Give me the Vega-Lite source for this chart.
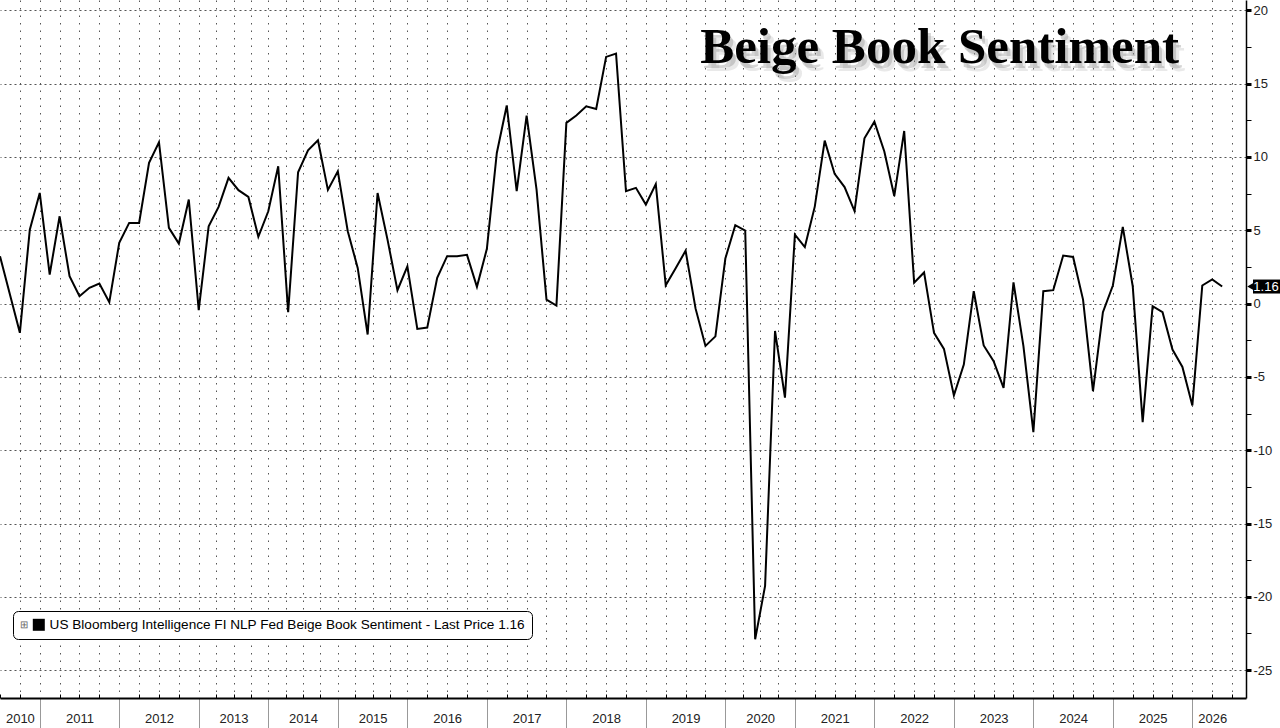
{
  "$schema": "https://vega.github.io/schema/vega-lite/v6.json",
  "width": 1246,
  "height": 698,
  "autosize": "none",
  "padding": {"left": 0, "top": 0, "right": 34, "bottom": 30},
  "background": "#ffffff",
  "config": {"view": {"stroke": null}, "font": "Liberation Sans"},
  "data": {
    "values": [
      {"obs": 0, "value": 3.23}, {"obs": 2, "value": -2.0}, {"obs": 3, "value": 5.04},
      {"obs": 4, "value": 7.54}, {"obs": 5, "value": 1.98}, {"obs": 6, "value": 5.95},
      {"obs": 7, "value": 1.86}, {"obs": 8, "value": 0.5}, {"obs": 9, "value": 1.07},
      {"obs": 10, "value": 1.36}, {"obs": 11, "value": 0.09}, {"obs": 12, "value": 4.14},
      {"obs": 13, "value": 5.5}, {"obs": 14, "value": 5.5}, {"obs": 15, "value": 9.59},
      {"obs": 16, "value": 11.0}, {"obs": 17, "value": 5.16}, {"obs": 18, "value": 4.09},
      {"obs": 19, "value": 7.09}, {"obs": 20, "value": -0.45}, {"obs": 21, "value": 5.27},
      {"obs": 22, "value": 6.59}, {"obs": 23, "value": 8.57}, {"obs": 24, "value": 7.73},
      {"obs": 25, "value": 7.27}, {"obs": 26, "value": 4.55}, {"obs": 27, "value": 6.29},
      {"obs": 28, "value": 9.36}, {"obs": 29, "value": -0.59}, {"obs": 30, "value": 8.95},
      {"obs": 31, "value": 10.45}, {"obs": 32, "value": 11.13}, {"obs": 33, "value": 7.75},
      {"obs": 34, "value": 9.02}, {"obs": 35, "value": 4.93}, {"obs": 36, "value": 2.43},
      {"obs": 37, "value": -2.11}, {"obs": 38, "value": 7.54}, {"obs": 39, "value": 4.36},
      {"obs": 40, "value": 0.91}, {"obs": 41, "value": 2.54}, {"obs": 42, "value": -1.73},
      {"obs": 43, "value": -1.64}, {"obs": 44, "value": 1.75}, {"obs": 45, "value": 3.23},
      {"obs": 46, "value": 3.23}, {"obs": 47, "value": 3.32}, {"obs": 48, "value": 1.14},
      {"obs": 49, "value": 3.73}, {"obs": 50, "value": 10.27}, {"obs": 51, "value": 13.5},
      {"obs": 52, "value": 7.66}, {"obs": 53, "value": 12.82}, {"obs": 54, "value": 7.77},
      {"obs": 55, "value": 0.27}, {"obs": 56, "value": -0.14}, {"obs": 57, "value": 12.32},
      {"obs": 58, "value": 12.82}, {"obs": 59, "value": 13.45}, {"obs": 60, "value": 13.27},
      {"obs": 61, "value": 16.82}, {"obs": 62, "value": 17.04}, {"obs": 63, "value": 7.66},
      {"obs": 64, "value": 7.89}, {"obs": 65, "value": 6.75}, {"obs": 66, "value": 8.14},
      {"obs": 67, "value": 1.25}, {"obs": 68, "value": 2.41}, {"obs": 69, "value": 3.6},
      {"obs": 70, "value": -0.33}, {"obs": 71, "value": -2.89}, {"obs": 72, "value": -2.24},
      {"obs": 73, "value": 3.07}, {"obs": 74, "value": 5.34}, {"obs": 75, "value": 4.98},
      {"obs": 76, "value": -22.9}, {"obs": 77, "value": -19.25}, {"obs": 78, "value": -1.87},
      {"obs": 79, "value": -6.42}, {"obs": 80, "value": 4.7}, {"obs": 81, "value": 3.85},
      {"obs": 82, "value": 6.61}, {"obs": 83, "value": 11.11}, {"obs": 84, "value": 8.84},
      {"obs": 85, "value": 7.94}, {"obs": 86, "value": 6.31}, {"obs": 87, "value": 11.27},
      {"obs": 88, "value": 12.4}, {"obs": 89, "value": 10.37}, {"obs": 90, "value": 7.33},
      {"obs": 91, "value": 11.77}, {"obs": 92, "value": 1.42}, {"obs": 93, "value": 2.12},
      {"obs": 94, "value": -2.0}, {"obs": 95, "value": -3.09}, {"obs": 96, "value": -6.27},
      {"obs": 97, "value": -4.16}, {"obs": 98, "value": 0.84}, {"obs": 99, "value": -2.86},
      {"obs": 100, "value": -3.93}, {"obs": 101, "value": -5.75}, {"obs": 102, "value": 1.45},
      {"obs": 103, "value": -2.91}, {"obs": 104, "value": -8.77}, {"obs": 105, "value": 0.84},
      {"obs": 106, "value": 0.91}, {"obs": 107, "value": 3.27}, {"obs": 108, "value": 3.18},
      {"obs": 109, "value": 0.27}, {"obs": 110, "value": -5.98}, {"obs": 111, "value": -0.59},
      {"obs": 112, "value": 1.23}, {"obs": 113, "value": 5.23}, {"obs": 114, "value": 1.18},
      {"obs": 115, "value": -8.09}, {"obs": 116, "value": -0.18}, {"obs": 117, "value": -0.59},
      {"obs": 118, "value": -3.14}, {"obs": 119, "value": -4.32}, {"obs": 120, "value": -6.95},
      {"obs": 121, "value": 1.23}, {"obs": 122, "value": 1.64}, {"obs": 123, "value": 1.16}
    ]
  },
  "layer": [
    {
      "mark": {"type": "line", "color": "#000000", "strokeWidth": 2, "strokeJoin": "miter"},
      "encoding": {
        "x": {
          "field": "obs",
          "type": "quantitative",
          "scale": {"domain": [0, 125.4], "nice": false, "zero": false},
          "axis": {
            "title": null,
            "tickCount": 500,
            "values": [0, 2, 4, 6, 8, 10, 12, 14, 16, 18, 20, 21.75, 23.5, 25.25, 27, 28.75, 30.5, 32.25, 34, 35.75, 37.5, 39.25, 41, 43, 45, 47, 49, 51, 53, 55, 57, 59, 61, 63, 65, 67, 69, 71, 73, 74.75, 76.5, 78.25, 80, 82, 84, 86, 88, 90, 92, 94, 96, 98, 100, 102, 104, 106, 108, 110, 112, 114, 116, 118, 120, 122, 124],
            "domainColor": "#000000",
            "domainWidth": 2,
            "grid": true,
            "gridColor": "#555555",
            "gridDash": [1.5, 6],
            "gridWidth": 1,
            "gridOpacity": {"condition": {"test": "datum.value <= 0", "value": 0}, "value": 1},
            "tickSize": {"condition": {"test": "indexof([4,12,20,27,34,41,49,57,65,73,80,88,96,104,112,120], datum.value) >= 0", "value": 30}, "value": -4},
            "tickColor": {"condition": {"test": "indexof([4,12,20,27,34,41,49,57,65,73,80,88,96,104,112,120], datum.value) >= 0", "value": "#999999"}, "value": "#000000"},
            "tickWidth": 1,
            "labelExpr": "indexof([2,8,16,23.5,30.5,37.5,45,53,61,69,76.5,84,92,100,108,116,122], datum.value) >= 0 ? ['2010','2011','2012','2013','2014','2015','2016','2017','2018','2019','2020','2021','2022','2023','2024','2025','2026'][indexof([2,8,16,23.5,30.5,37.5,45,53,61,69,76.5,84,92,100,108,116,122], datum.value)] : ''",
            "labelFont": "Liberation Sans",
            "labelFontSize": 13,
            "labelColor": "#222222",
            "labelPadding": 18,
            "labelOverlap": false,
            "labelFlush": false,
            "labelBound": false
          }
        },
        "y": {
          "field": "value",
          "type": "quantitative",
          "scale": {"domain": [-26.9, 20.7], "nice": false, "zero": false},
          "axis": {
            "orient": "right",
            "title": null,
            "tickCount": 500,
            "values": [-25, -22.5, -20, -17.5, -15, -12.5, -10, -7.5, -5, -2.5, 0, 2.5, 5, 7.5, 10, 12.5, 15, 17.5, 20],
            "domainColor": "#000000",
            "domainWidth": 1.5,
            "grid": true,
            "gridColor": "#555555",
            "gridDash": [2, 3],
            "gridWidth": 1,
            "gridOpacity": {"condition": {"test": "datum.value % 5 === 0", "value": 1}, "value": 0},
            "tickColor": "#000000",
            "tickSize": 5,
            "tickWidth": {"condition": {"test": "datum.value % 5 === 0", "value": 3}, "value": 1},
            "labelExpr": "datum.value % 5 === 0 ? '' + datum.value : ''",
            "labelFont": "Liberation Sans",
            "labelFontSize": 13,
            "labelColor": "#222222",
            "labelPadding": 2,
            "labelOverlap": false,
            "labelBound": false
          }
        },
        "color": {
          "datum": "US Bloomberg Intelligence FI NLP Fed Beige Book Sentiment - Last Price 1.16",
          "type": "nominal",
          "scale": {"range": ["#000000"]},
          "legend": {
            "orient": "none",
            "legendX": 13,
            "legendY": 611,
            "title": "⊞",
            "titleOrient": "left",
            "titleFontSize": 10,
            "titleFontWeight": "normal",
            "titleColor": "#666666",
            "titlePadding": 4,
            "symbolType": "square",
            "symbolSize": 144,
            "symbolFillColor": "#000000",
            "symbolStrokeWidth": 0,
            "labelFont": "Liberation Sans",
            "labelFontSize": 13.6,
            "labelColor": "#000000",
            "labelLimit": 1000,
            "labelOffset": 4,
            "fillColor": "#ffffff",
            "strokeColor": "#000000",
            "cornerRadius": 5,
            "padding": 7,
            "encode": {"symbols": {"update": {"fill": {"value": "#000000"}, "shape": {"value": "square"}}}}
          }
        }
      }
    },
    {
      "data": {"values": [{}]},
      "mark": {"type": "text", "text": "Beige Book Sentiment", "font": "Liberation Serif", "fontWeight": "bold", "fontSize": 51, "align": "center", "baseline": "alphabetic", "color": "#aaaaaa", "opacity": 0.25, "dx": 6, "dy": 8},
      "encoding": {"x": {"datum": 94.56, "type": "quantitative"}, "y": {"datum": 16.43, "type": "quantitative"}}
    },
    {
      "data": {"values": [{}]},
      "mark": {"type": "text", "text": "Beige Book Sentiment", "font": "Liberation Serif", "fontWeight": "bold", "fontSize": 51, "align": "center", "baseline": "alphabetic", "color": "#888888", "opacity": 0.35, "dx": 3, "dy": 5},
      "encoding": {"x": {"datum": 94.56, "type": "quantitative"}, "y": {"datum": 16.43, "type": "quantitative"}}
    },
    {
      "data": {"values": [{}]},
      "mark": {"type": "text", "text": "Beige Book Sentiment", "font": "Liberation Serif", "fontWeight": "bold", "fontSize": 51, "align": "center", "baseline": "alphabetic", "color": "#000000"},
      "encoding": {"x": {"datum": 94.56, "type": "quantitative"}, "y": {"datum": 16.43, "type": "quantitative"}}
    },
    {
      "transform": [{"filter": "datum.obs === 123"}],
      "mark": {"type": "rect", "color": "#000000", "xOffset": 7, "x2Offset": 34, "yOffset": -7, "y2Offset": 7},
      "encoding": {
        "x": {"datum": 125.4, "type": "quantitative"},
        "x2": {"datum": 125.4},
        "y": {"field": "value", "type": "quantitative"},
        "y2": {"field": "value"}
      }
    },
    {
      "transform": [{"filter": "datum.obs === 123"}],
      "mark": {"type": "point", "shape": "triangle-left", "size": 120, "filled": true, "color": "#000000", "opacity": 1, "xOffset": 6},
      "encoding": {"x": {"datum": 125.4, "type": "quantitative"}, "y": {"field": "value", "type": "quantitative"}}
    },
    {
      "transform": [{"filter": "datum.obs === 123"}],
      "mark": {"type": "text", "font": "Liberation Sans", "fontSize": 13, "color": "#ffffff", "align": "center", "baseline": "middle", "dx": 20},
      "encoding": {"x": {"datum": 125.4, "type": "quantitative"}, "y": {"field": "value", "type": "quantitative"}, "text": {"field": "value", "type": "quantitative", "format": ".2f"}}
    }
  ]
}
